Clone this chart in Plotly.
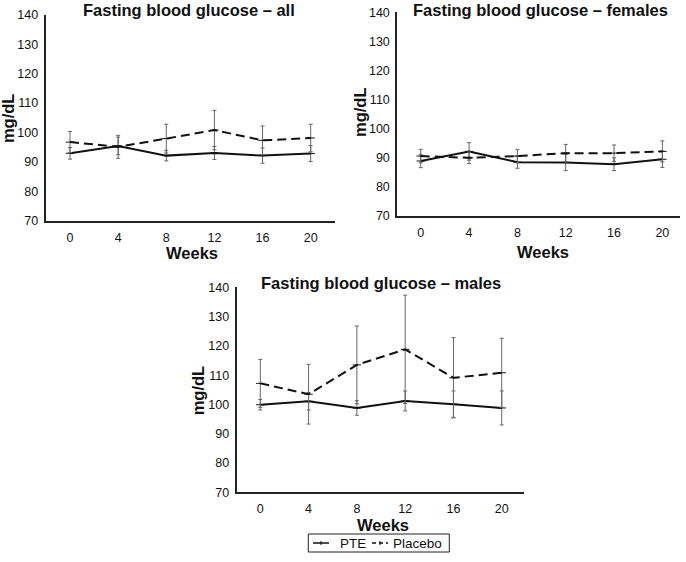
import plotly.graph_objects as go

weeks = [0, 4, 8, 12, 16, 20]
week_ticks = ["0", "4", "8", "12", "16", "20"]
y_ticks = [70, 80, 90, 100, 110, 120, 130, 140]

all_pte = [92.9, 95.4, 92.1, 93.0, 92.1, 92.8]
all_pte_err = [2.0, 3.0, 1.8, 2.2, 2.6, 2.7]
all_placebo = [96.7, 95.1, 97.9, 100.8, 97.3, 98.1]
all_placebo_err = [3.6, 3.9, 4.9, 6.7, 4.9, 4.7]

fem_pte = [88.9, 92.2, 88.5, 88.4, 87.8, 89.5]
fem_pte_err = [2.3, 3.0, 2.1, 2.8, 2.2, 2.8]
fem_placebo = [90.6, 90.0, 90.6, 91.6, 91.6, 92.2]
fem_placebo_err = [2.3, 2.0, 2.3, 3.0, 2.8, 3.6]

male_pte = [99.9, 101.1, 98.8, 101.2, 100.1, 98.8]
male_pte_err = [1.8, 3.0, 2.5, 3.4, 4.5, 5.8]
male_placebo = [107.2, 103.5, 113.5, 118.8, 109.1, 110.8]
male_placebo_err = [8.2, 10.2, 13.3, 18.5, 13.7, 11.8]

series_names = ["PTE", "Placebo"]
titles = ["Fasting blood glucose – all", "Fasting blood glucose – females",
          "Fasting blood glucose – males"]

W, H = 686, 562
FONT = "Liberation Sans, Arial, sans-serif"
INK = "#111111"
DASH = "9px,5px"


def px_x(v):
    return v / W


def px_y(v):
    return 1 - v / H


panels = [
    dict(pte=all_pte, pe=all_pte_err, pl=all_placebo, ple=all_placebo_err,
         xdom=(45.7, 335.0), ydom=(15.0, 220.5), xr=(-2.02, 22.02),
         title=(189.2, 0.0), ylab=(8.3, 117.8), xlab=(192.5, 252.5)),
    dict(pte=fem_pte, pe=fem_pte_err, pl=fem_placebo, ple=fem_placebo_err,
         xdom=(397.3, 680.0), ydom=(12.3, 216.0), xr=(-1.94, 21.46),
         title=(540.0, 0.0), ylab=(360.0, 112.0), xlab=(543.0, 251.7)),
    dict(pte=male_pte, pe=male_pte_err, pl=male_placebo, ple=male_placebo_err,
         xdom=(236.7, 524.3), ydom=(287.3, 492.3), xr=(-1.955, 21.87),
         title=(381.0, 273.0), ylab=(198.3, 390.0), xlab=(383.0, 525.0)),
]

fig = go.Figure()
annotations = []
shapes = []
layout = {}

for i, p in enumerate(panels):
    sfx = "" if i == 0 else str(i + 1)
    xa, ya = "x" + sfx, "y" + sfx
    for name, vals, errs, dash in [(series_names[0], p["pte"], p["pe"], "solid"),
                                   (series_names[1], p["pl"], p["ple"], DASH)]:
        fig.add_trace(go.Scatter(
            x=weeks, y=vals, name=name, mode="lines+markers",
            xaxis=xa, yaxis=ya, showlegend=False,
            line=dict(color=INK, width=2, dash=dash),
            marker=dict(symbol="line-ew", size=6, line=dict(color=INK, width=1)),
            error_y=dict(type="data", array=errs, visible=True,
                         color="#666666", thickness=1, width=2)))

    layout["xaxis" + sfx] = dict(
        domain=[px_x(p["xdom"][0]), px_x(p["xdom"][1])], range=list(p["xr"]),
        anchor=ya, tickvals=weeks, ticktext=week_ticks, showgrid=False,
        zeroline=False, showline=True, linecolor="#222222", linewidth=2,
        ticks="", ticklabelstandoff=4, automargin=False,
        tickfont=dict(family=FONT, size=12.5, color=INK))
    layout["yaxis" + sfx] = dict(
        domain=[px_y(p["ydom"][1]), px_y(p["ydom"][0])], range=[70, 140],
        anchor=xa, tickvals=y_ticks, showgrid=False, zeroline=False,
        showline=True, linecolor="#222222", linewidth=2, ticks="",
        ticklabelstandoff=3, automargin=False,
        tickfont=dict(family=FONT, size=12.5, color=INK))

    annotations.append(dict(
        text="<b>%s</b>" % titles[i], xref="paper", yref="paper",
        x=px_x(p["title"][0]), y=px_y(p["title"][1]), xanchor="center",
        yanchor="top", showarrow=False, borderpad=0,
        font=dict(family=FONT, size=16.5, color=INK)))
    annotations.append(dict(
        text="<b>mg/dL</b>", xref="paper", yref="paper",
        x=px_x(p["ylab"][0]), y=px_y(p["ylab"][1]), xanchor="center",
        yanchor="middle", textangle=-90, showarrow=False,
        font=dict(family=FONT, size=16.5, color=INK)))
    annotations.append(dict(
        text="<b>Weeks</b>", xref="paper", yref="paper",
        x=px_x(p["xlab"][0]), y=px_y(p["xlab"][1]), xanchor="center",
        yanchor="middle", showarrow=False,
        font=dict(family=FONT, size=16.5, color=INK)))

# Legend key below the bottom panel
LY = 543.0
shapes.append(dict(type="rect", xref="paper", yref="paper",
                   x0=px_x(308.3), x1=px_x(449.3), y0=px_y(552.0), y1=px_y(534.0),
                   line=dict(color="#222222", width=1), fillcolor="white"))
for (xa0, xa1, dash, tx, label) in [(313.0, 329.0, "solid", 338.0, series_names[0]),
                                     (372.0, 388.0, "4px,3px", 390.5, series_names[1])]:
    shapes.append(dict(type="line", xref="paper", yref="paper",
                       x0=px_x(xa0), x1=px_x(xa1), y0=px_y(LY), y1=px_y(LY),
                       line=dict(color=INK, width=1.5, dash=dash)))
    xm = (xa0 + xa1) / 2
    shapes.append(dict(type="line", xref="paper", yref="paper",
                       x0=px_x(xm), x1=px_x(xm), y0=px_y(LY - 2), y1=px_y(LY + 2),
                       line=dict(color=INK, width=1)))
    annotations.append(dict(text=label, xref="paper", yref="paper",
                            x=px_x(tx), y=px_y(LY), xanchor="left",
                            yanchor="middle", showarrow=False,
                            font=dict(family=FONT, size=13.5, color=INK)))

fig.update_layout(
    width=W, height=H, margin=dict(l=0, r=0, t=0, b=0, autoexpand=False),
    paper_bgcolor="white", plot_bgcolor="white", showlegend=False,
    annotations=annotations, shapes=shapes,
    **layout)

fig.write_html("out.html", config={"displayModeBar": False},
               post_script="document.body.style.margin='0';"
                           "document.body.style.overflow='hidden';")
